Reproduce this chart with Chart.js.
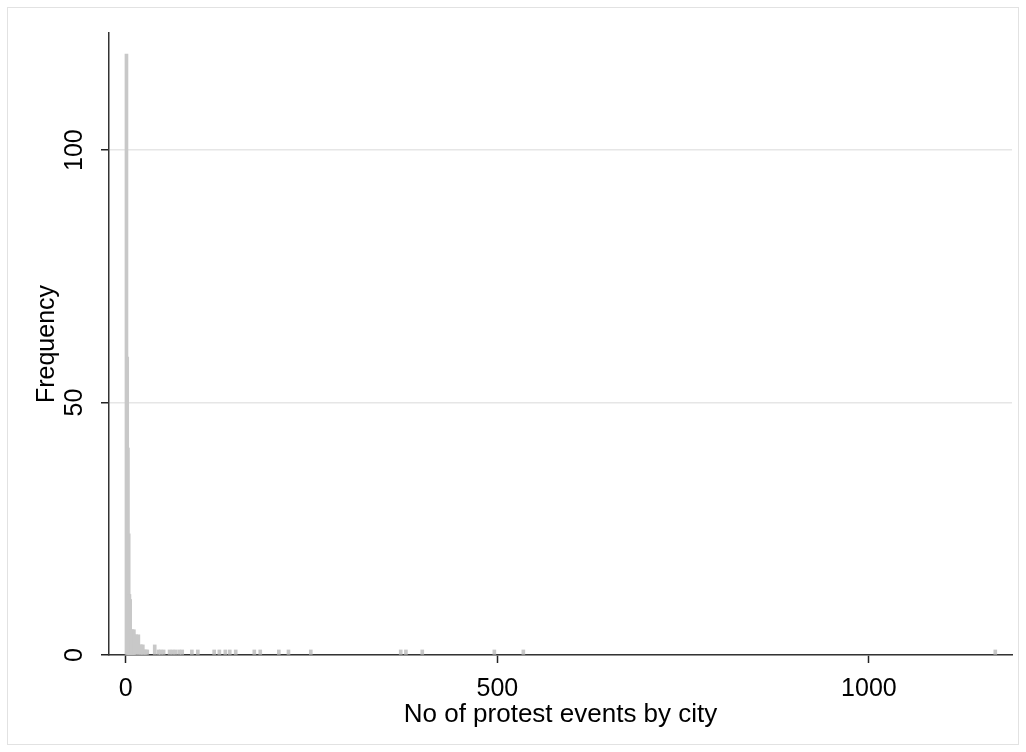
<!DOCTYPE html>
<html>
<head>
<meta charset="utf-8">
<script src="https://cdn.jsdelivr.net/npm/chart.js@4.4.1/dist/chart.umd.min.js"></script>
<style>
  html, body { margin: 0; background: #fff; }
  #wrap { position: relative; width: 1026px; height: 752px; }
</style>
</head>
<body>
<div id="wrap"><canvas id="histChart"></canvas></div>
<script>
/* protest events by city - histogram */

// number of protest events in a city (position on x axis)
const eventCounts = [1, 2, 3, 4, 5, 6, 7, 8, 9, 10, 11, 12, 14, 17, 19, 21, 23, 25, 27, 29, 39,
  44, 47, 51, 59, 63, 67, 72, 76, 89, 97, 119, 126, 134, 140, 148, 173, 181, 206, 219, 249,
  370, 377, 399, 496, 535, 1170];
// how many cities have that many events
const cityFrequency = [119, 59, 41, 24, 12, 11, 5, 3, 5, 4, 5, 4, 4, 4, 2, 2, 2, 1, 1, 1, 2,
  1, 1, 1, 1, 1, 1, 1, 1, 1, 1, 1, 1, 1, 1, 1, 1, 1, 1, 1, 1,
  1, 1, 1, 1, 1, 1];

const xTickValues = [0, 500, 1000];
const yTickValues = [0, 50, 100];

const points = eventCounts.map((v, i) => ({ x: v, y: cityFrequency[i] }));

// light frame round the whole graph, like the stata export
const framePlugin = {
  id: "frame",
  beforeDraw(chart) {
    const ctx = chart.ctx;
    ctx.save();
    ctx.fillStyle = "#ffffff";
    ctx.fillRect(0, 0, chart.width, chart.height);
    ctx.strokeStyle = "#e2e2e2";
    ctx.lineWidth = 1;
    ctx.strokeRect(7.5, 7.5, 1011, 737);
    ctx.restore();
  }
};

const font = { family: "'Liberation Sans', Arial, Helvetica, sans-serif", size: 25 };
const xTitleFont = { family: "'Liberation Sans', Arial, Helvetica, sans-serif", size: 26 };

document.addEventListener("DOMContentLoaded", () => {

  const canvas = document.getElementById("histChart");

  new Chart(canvas, {
    type: "bar",
    data: {
      datasets: [{
        data: points,
        backgroundColor: "#c8c8c8",
        borderWidth: 0,
        barThickness: 3
      }]
    },
    options: {
      responsive: true,
      maintainAspectRatio: false,
      animation: false,
      layout: { padding: { top: 33, right: 14, left: 0, bottom: 0 } },
      plugins: {
        legend: { display: false },
        tooltip: { enabled: false }
      },
      scales: {
        x: {
          type: "linear",
          min: -22.5,
          max: 1192.5,
          offset: false,
          afterBuildTicks: scale => { scale.ticks = xTickValues.map(v => ({ value: v })); },
          afterFit: scale => { scale.height = 97; },
          ticks: { font: font, color: "#000", padding: 11, maxRotation: 0, autoSkip: false,
            callback: v => String(v) },
          grid: { offset: false, drawOnChartArea: false, tickLength: 8, tickColor: "#222", tickWidth: 1.5 },
          border: { color: "#333", width: 1.5 },
          title: {
            display: true,
            text: "No of protest events by city",
            font: xTitleFont,
            color: "#000",
            padding: { top: 4, bottom: 22 }
          }
        },
        y: {
          min: 0,
          max: 123.2,
          afterBuildTicks: scale => { scale.ticks = yTickValues.map(v => ({ value: v })); },
          afterFit: scale => { scale.width = 109; },
          ticks: { font: font, color: "#000", padding: 5, minRotation: 90, maxRotation: 90, crossAlign: "center",
            callback: v => String(v) },
          grid: { color: "#e6e6e6", lineWidth: 1.5, tickLength: 8, tickColor: "#222", tickWidth: 1.5 },
          border: { color: "#333", width: 1.5 },
          title: {
            display: true,
            text: "Frequency",
            font: font,
            color: "#000",
            padding: { top: 32, bottom: 0 }
          }
        }
      }
    },
    plugins: [framePlugin]
  });

});
</script>
</body>
</html>
